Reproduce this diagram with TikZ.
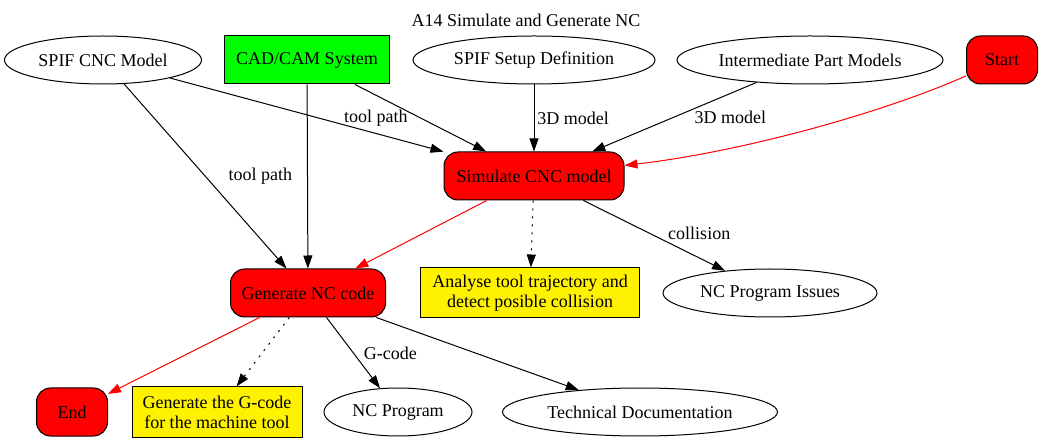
\documentclass[tikz,border=0pt]{standalone}
\usepackage{fontspec}
\setmainfont{Liberation Serif}
\usetikzlibrary{arrows.meta,shapes.geometric}

\begin{document}
\begin{tikzpicture}[x=1pt,y=-1pt,line width=1pt,font=\fontsize{18}{20}\selectfont,
 every node/.style={inner sep=0pt,align=center},
 oval/.style={draw,ellipse,minimum height=48pt},
 task/.style={draw,fill=red,rounded corners=14pt,minimum height=48pt},
 note/.style={draw,fill=yellow,minimum height=50pt},
 flow/.style={-{Triangle[length=13pt,width=9pt]}},
 ctrl/.style={flow,red},
 mech/.style={flow,dash pattern=on 2pt off 6pt}]
 \useasboundingbox (0,0) rectangle (1052,443);
 \node (ttl) at (526,20) {A14 Simulate and Generate NC};
 \node[oval,minimum width=197pt] (cnc) at (103,60) {SPIF CNC Model};
 \node[draw,fill=green,minimum width=165pt,minimum height=48pt] (cam) at (307,60) {CAD/CAM System};
 \node[oval,minimum width=242pt] (setup) at (534,60) {SPIF Setup Definition};
 \node[oval,minimum width=266pt] (inter) at (810,60) {Intermediate Part Models};
 \node[task,minimum width=71pt] (start) at (1002,60) {Start};
 \node[task,minimum width=180pt] (sim) at (534,176) {Simulate CNC model};
 \node[task,minimum width=155pt] (gen) at (308,293) {Generate NC code};
 \node[note,minimum width=219pt] (ana) at (530,293) {Analyse tool trajectory and\\detect posible collision};
 \node[oval,minimum width=214pt] (iss) at (770,293) {NC Program Issues};
 \node[task,minimum width=71pt] (end) at (72,412) {End};
 \node[note,minimum width=170pt] (gnote) at (217,412) {Generate the G-code\\for the machine tool};
 \node[oval,minimum width=148pt] (prog) at (398,412) {NC Program};
 \node[oval,minimum width=275pt] (doc) at (640,412) {Technical Documentation};

 \draw[flow] (cnc)--(gen) node[pos=.5,xshift=55pt]{tool path};
 \draw[flow] (cnc)--(sim) node[pos=.5,xshift=69pt,yshift=-3pt]{tool path};
 \draw[flow] (cam)--(gen);
 \draw[flow] (cam)--(sim);
 \draw[flow] (setup)--(sim) node[pos=.5,xshift=39pt]{3D model};
 \draw[flow] (inter)--(sim) node[pos=.5,xshift=56pt]{3D model};
 \draw[ctrl] (start) .. controls (880,114) and (740,152) .. (sim);
 \draw[ctrl] (sim)--(gen);
 \draw[mech] (sim)--(ana);
 \draw[flow] (sim)--(iss) node[pos=.5,xshift=45pt,yshift=2pt]{collision};
 \draw[ctrl] (gen)--(end);
 \draw[mech] (gen)--(gnote);
 \draw[flow] (gen)--(prog) node[pos=.5,xshift=37pt]{G-code};
 \draw[flow] (gen)--(doc);
\end{tikzpicture}
\end{document}
